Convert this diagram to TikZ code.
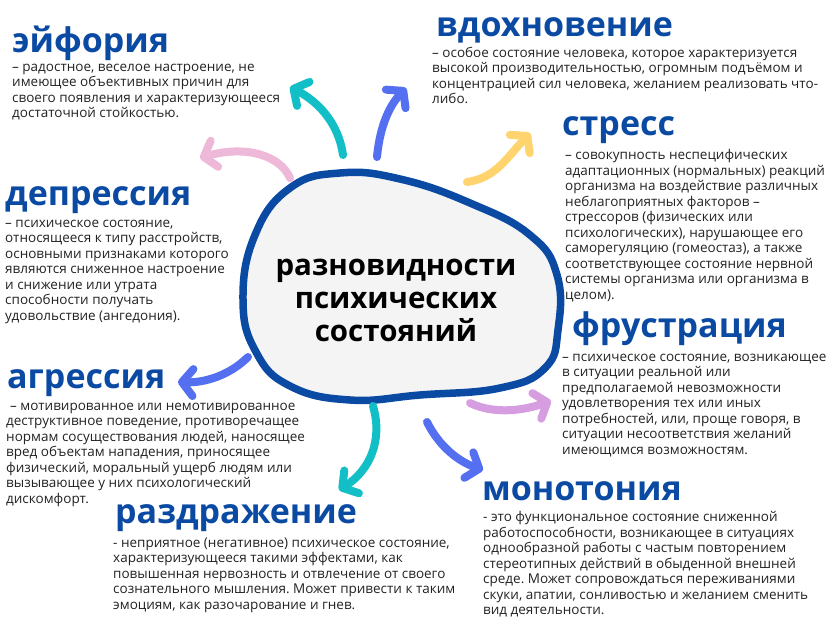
\documentclass[tikz,border=0pt]{standalone}
\usepackage{fontspec}
\setmainfont{Open Sans}
\newfontfamily\ttlfont{Open Sans}
\usetikzlibrary{arrows.meta}
\frenchspacing
\definecolor{ttlblue}{HTML}{0B4AA3}
\definecolor{bodygray}{HTML}{222222}
\definecolor{blobfill}{HTML}{F4F4F4}
\definecolor{arrteal}{HTML}{13BFC6}
\definecolor{arrblue}{HTML}{5470F0}
\definecolor{arrpink}{HTML}{EEB9D8}
\definecolor{arryellow}{HTML}{FFD46E}
\definecolor{arrlilac}{HTML}{D69DE0}
\begin{document}
\begin{tikzpicture}[x=1pt,y=-1pt,
  ttl/.style={anchor=base west, inner sep=0pt, font=\ttlfont\bfseries\fontsize{34}{36}\selectfont, text=ttlblue},
  body/.style={anchor=north west, inner sep=0pt, align=left, font=\fontsize{13.5}{15.5}\selectfont\frenchspacing, text=bodygray},
  centre/.style={inner sep=0pt, align=center, font=\ttlfont\bfseries\fontsize{29.5}{33}\selectfont, text=black},
  blobline/.style={draw=ttlblue, line width=7.5pt, fill=blobfill},
  brush/.style={line width=8pt, line cap=round, -{Straight Barb[length=11pt, width=27pt, round]}}
]
\useasboundingbox[fill=white] (0,0) rectangle (839,622);

% central blob
\draw[blobline] plot[smooth cycle, tension=0.75] coordinates {
  (243,300) (255,235) (290,188) (340,173) (400,179) (470,203) (530,235)
  (557,275) (558,330) (545,368) (500,388) (420,395) (350,400) (290,386) (256,352)};
\node[centre] (c) at (396,300) {разновидности\\психических\\состояний};

% titles
\node[ttl] (t1) at (12,52) {эйфория};
\node[ttl] (t2) at (436,36) {вдохновение};
\node[ttl] (t3) at (562,135) {стресс};
\node[ttl] (t4) at (5,205) {депрессия};
\node[ttl] (t5) at (7,388) {агрессия};
\node[ttl] (t6) at (572,337) {фрустрация};
\node[ttl] (t7) at (115,523) {раздражение};
\node[ttl] (t8) at (482,500) {монотония};

% bodies
\node[body] (b1) at (12,63.5) {– радостное, веселое настроение, не\\имеющее объективных причин для\\своего появления и характеризующееся\\достаточной стойкостью.};
\node[body] (b2) at (432,46.5) {– особое состояние человека, которое характеризуется\\высокой производительностью, огромным подъёмом и\\концентрацией сил человека, желанием реализовать что-\\либо.};
\node[body] (b3) at (565,149.5) {– совокупность неспецифических\\адаптационных (нормальных) реакций\\организма на воздействие различных\\неблагоприятных факторов –\\стрессоров (физических или\\психологических), нарушающее его\\саморегуляцию (гомеостаз), а также\\соответствующее состояние нервной\\системы организма или организма в\\целом).};
\node[body] (b4) at (5,219.5) {– психическое состояние,\\относящееся к типу расстройств,\\основными признаками которого\\являются сниженное настроение\\и снижение или утрата\\способности получать\\удовольствие (ангедония).};
\node[body] (b5) at (6,402.5) {\hspace{4pt}– мотивированное или немотивированное\\деструктивное поведение, противоречащее\\нормам сосуществования людей, наносящее\\вред объектам нападения, приносящее\\физический, моральный ущерб людям или\\вызывающее у них психологический\\дискомфорт.};
\node[body] (b6) at (562,353.5) {– психическое состояние, возникающее\\в ситуации реальной или\\предполагаемой невозможности\\удовлетворения тех или иных\\потребностей, или, проще говоря, в\\ситуации несоответствия желаний\\имеющимся возможностям.};
\node[body] (b7) at (113,537.5) {- неприятное (негативное) психическое состояние,\\характеризующееся такими эффектами, как\\повышенная нервозность и отвлечение от своего\\сознательного мышления. Может привести к таким\\эмоциям, как разочарование и гнев.};
\node[body] (b8) at (483,511.5) {- это функциональное состояние сниженной\\работоспособности, возникающее в ситуациях\\однообразной работы с частым повторением\\стереотипных действий в обыденной внешней\\среде. Может сопровождаться переживаниями\\скуки, апатии, сонливостью и желанием сменить\\вид деятельности.};

% arrow end points
\coordinate (p1s) at (290,178); \coordinate (p1e) at (200,158);
\coordinate (p2s) at (343,155); \coordinate (p2e) at (290,87);
\coordinate (p3s) at (377,157); \coordinate (p3e) at (406,88);
\coordinate (p4s) at (467,182); \coordinate (p4e) at (530,133);
\coordinate (p5s) at (248,357); \coordinate (p5e) at (178,382);
\coordinate (p6s) at (373,406); \coordinate (p6e) at (339,490);
\coordinate (p7s) at (427,422); \coordinate (p7e) at (483,470);
\coordinate (p8s) at (470,403); \coordinate (p8e) at (551,401);

\draw[brush, arrpink]   (p1s) .. controls (280,155) and (245,145) .. (p1e);
\draw[brush, arrteal]   (p2s) .. controls (338,120) and (315,100) .. (p2e);
\draw[brush, arrblue]   (p3s) .. controls (380,125) and (390,105) .. (p3e);
\draw[brush, arryellow] (p4s) .. controls (495,178) and (505,160) .. (p4e);
\draw[brush, arrblue]   (p5s) .. controls (230,375) and (205,383) .. (p5e);
\draw[brush, arrteal]   (p6s) .. controls (383,440) and (370,470) .. (p6e);
\draw[brush, arrblue]   (p7s) .. controls (440,448) and (460,462) .. (p7e);
\draw[brush, arrlilac]  (p8s) .. controls (495,415) and (525,410) .. (p8e);
\end{tikzpicture}
\end{document}
